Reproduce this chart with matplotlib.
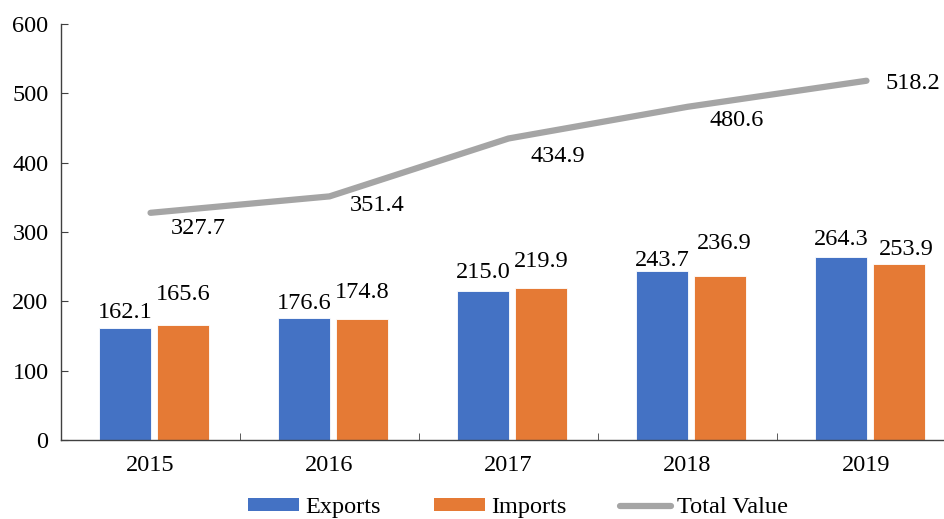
import matplotlib.pyplot as plt
from matplotlib.patches import Patch
from matplotlib.lines import Line2D

# trade values by year
years = ["2015", "2016", "2017", "2018", "2019"]
exports = [162.1, 176.6, 215.0, 243.7, 264.3]
imports = [165.6, 174.8, 219.9, 236.9, 253.9]
total = [327.7, 351.4, 434.9, 480.6, 518.2]

blue = "#4472C4"
orange = "#E57A35"
gray = "#A5A5A5"

plt.rcParams["font.family"] = ["Liberation Serif", "DejaVu Serif"]
fs = 17.5

fig = plt.figure(figsize=(9.45, 5.19), dpi=100)
ax = fig.add_axes([0.0646, 0.1522, 0.947, 0.8015])

x = list(range(len(years)))
w = 0.29
xb = [i - 0.142 for i in x]
xo = [i + 0.182 for i in x]
ax.bar(xb, exports, width=w, color=blue, edgecolor="white", linewidth=0.6, zorder=2)
ax.bar(xo, imports, width=w, color=orange, edgecolor="white", linewidth=0.6, zorder=2)
ax.plot(x, total, color=gray, linewidth=4.5, solid_capstyle="round", zorder=3)

# label nudges in pixels (text centre relative to mark)
exp_dy = [15, 14, 18, 11, 17]
imp_dy = [31, 26, 26, 32, 14]
imp_dx = [0, 0, 0, 4, 7]
tot_off = [(48, -16), (48, -9), (49, -18), (49, -14), (46, -3)]

for i in x:
    ax.annotate(f"{exports[i]:.1f}", (xb[i], exports[i]), xytext=(0, exp_dy[i]),
                textcoords="offset pixels", ha="center", va="center", fontsize=fs)
    ax.annotate(f"{imports[i]:.1f}", (xo[i], imports[i]), xytext=(imp_dx[i], imp_dy[i]),
                textcoords="offset pixels", ha="center", va="center", fontsize=fs)
    ax.annotate(f"{total[i]:.1f}", (i, total[i]), xytext=tot_off[i],
                textcoords="offset pixels", ha="center", va="center", fontsize=fs)

ax.set_xlim(-0.5, 4.5)
ax.set_ylim(0, 600)
ax.set_yticks(range(0, 601, 100))
ax.set_xticks(x)
ax.set_xticklabels(years)
ax.set_xticks([i + 0.5 for i in range(-1, 5)], minor=True)
ax.tick_params(axis="x", which="major", length=0, pad=11, labelsize=fs)
ax.tick_params(axis="x", which="minor", direction="in", length=5, color="#404040")
ax.tick_params(axis="y", direction="in", length=5, pad=9, labelsize=fs, color="#404040")

for s in ["top", "right"]:
    ax.spines[s].set_visible(False)
for s in ["left", "bottom"]:
    ax.spines[s].set_color("#404040")
    ax.spines[s].set_linewidth(1)

handles = [Patch(facecolor=blue), Patch(facecolor=orange),
           Line2D([0], [0], color=gray, linewidth=4.5, solid_capstyle="round")]
fig.legend(handles, ["Exports", "Imports", "Total Value"], loc="center",
           bbox_to_anchor=(0.548, 0.022), ncol=3, frameon=False, fontsize=fs,
           handlelength=2.1, handleheight=0.42, handletextpad=0.25, columnspacing=2.2)

fig.savefig("out.png", dpi=100)
